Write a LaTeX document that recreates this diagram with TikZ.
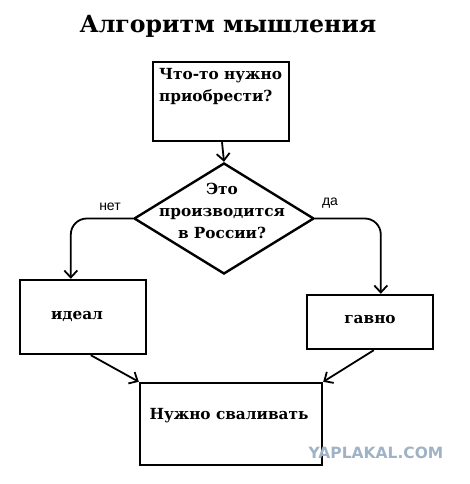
\documentclass[tikz,border=0pt]{standalone}
\usepackage{fontspec}
\setmainfont{DejaVu Serif}
\newfontfamily\labfont{Liberation Sans}
\newfontfamily\wmfont{DejaVu Sans}
\usetikzlibrary{shapes.geometric,arrows.meta,positioning}
\definecolor{wm}{HTML}{9FB2C6}
\tikzset{
  box/.style={draw, line width=2.4pt, rectangle, inner sep=0pt},
  btext/.style={font=\fontsize{15.3}{22}\selectfont\bfseries, inner sep=0pt},
  arr/.style={line width=1.8pt, -{Straight Barb[length=7pt,width=13pt,line width=1.8pt]}},
  lab/.style={font=\labfont\fontsize{14}{16}\selectfont, inner sep=0pt}
}
\begin{document}
\begin{tikzpicture}[x=1pt,y=-1pt]
\useasboundingbox (0,0) rectangle (470,484);
\node[font=\fontsize{23.6}{30}\selectfont\bfseries, inner sep=0pt] (title) at (228,26) {Алгоритм мышления};
% boxes
\node[box, minimum width=136pt, minimum height=79pt] (q) at (221,101.5) {};
\node[btext, anchor=north west, align=left] (qt) at (159,68) {Что-то нужно\\приобрести?};
\node[draw, line width=2.4pt, shape=diamond, minimum width=180pt, minimum height=111pt, inner sep=0pt] (d) at (224,218.5) {};
\node[btext, align=center] (dt) at (222,211) {Это\\производится\\в России?};
\node[box, minimum width=126pt, minimum height=74pt] (ideal) at (83,317) {};
\node[btext] (it) at (77,316) {идеал};
\node[box, minimum width=126pt, minimum height=54pt] (shit) at (370,322) {};
\node[btext] (st) at (370,320) {гавно};
\node[box, minimum width=182pt, minimum height=82pt] (run) at (231,424) {};
\node[btext] (rt) at (229,416) {Нужно сваливать};
\node[lab] (net) at (110,207) {нет};
\node[lab] (da) at (330,203) {да};
\node[font=\wmfont\bfseries\fontsize{15.5}{16}\selectfont, text=wm, inner sep=0pt] (wm) at (376,453) {YAPLAKAL.COM};
% connectors
\draw[arr] (q.south -| 222,0) -- (d.north);
\draw[arr, rounded corners=16pt] (d.west) -| ([xshift=52pt]ideal.north west);
\draw[arr, rounded corners=16pt] (d.east) -| ([xshift=75pt]shit.north west);
\draw[arr] ([xshift=72pt]ideal.south west) -- (run.north west);
\draw[arr] ([xshift=68pt]shit.south west) -- (run.north east);
\end{tikzpicture}
\end{document}
